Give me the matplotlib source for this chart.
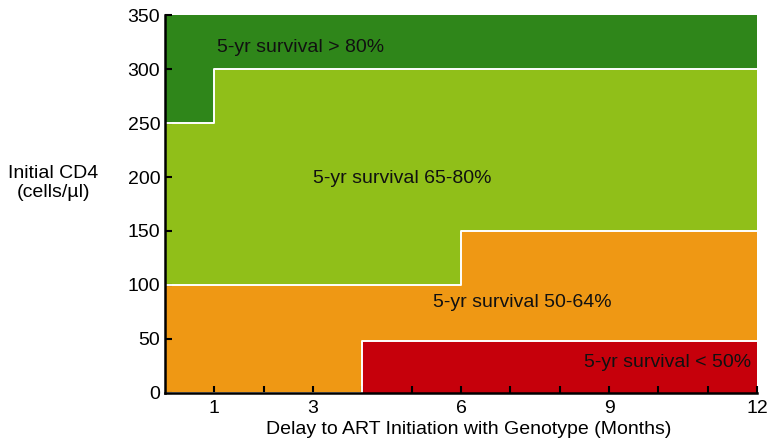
import matplotlib.pyplot as plt

plt.rcParams["font.family"] = ["Liberation Sans", "DejaVu Sans"]

# boundaries between survival zones (step functions of delay in months)
delay = [0, 1, 4, 6, 12]
dark_light = [250, 300, 300, 300, 300]   # >80% / 65-80%
light_orange = [100, 100, 100, 150, 150]  # 65-80% / 50-64%
orange_red = [0, 0, 48, 48, 48]           # 50-64% / <50%
ymax = 350

zone_colors = ["#2f861a", "#90bf19", "#ef9814", "#c6000b"]
zone_labels = ["5-yr survival > 80%", "5-yr survival 65-80%",
               "5-yr survival 50-64%", "5-yr survival < 50%"]

major_ticks = [1, 3, 6, 9, 12]
minor_ticks = [2, 4, 5, 7, 8, 10, 11]

fig = plt.figure(figsize=(7.71, 4.43), dpi=100)
ax = fig.add_axes([0.214, 0.113, 0.768, 0.853])

top = [ymax] * len(delay)
bottom = [0] * len(delay)
layers = [(dark_light, top), (light_orange, dark_light),
          (orange_red, light_orange), (bottom, orange_red)]
for (lo, hi), c in zip(layers, zone_colors):
    ax.fill_between(delay, lo, hi, step="post", color=c, linewidth=0)

for b in [dark_light, light_orange, orange_red]:
    ax.step(delay, b, where="post", color="white", lw=1.4)

# zone labels
fs = 14
ax.text(1.05, 320, zone_labels[0], fontsize=fs, va="center", color="#111111")
ax.text(3.0, 199, zone_labels[1], fontsize=fs, va="center", color="#111111")
ax.text(5.44, 84, zone_labels[2], fontsize=fs, va="center", color="#111111")
ax.text(11.87, 28, zone_labels[3], fontsize=fs, va="center", ha="right", color="#111111")

ax.set_xlim(0, 12)
ax.set_ylim(0, ymax)
ax.set_xticks(major_ticks)
ax.set_xticks(minor_ticks, minor=True)
ax.set_yticks(range(0, 351, 50))
ax.tick_params(axis="both", which="both", direction="in", length=5, width=1.5,
               labelsize=fs, color="black")
ax.tick_params(axis="x", pad=5)

for side in ["top", "right"]:
    ax.spines[side].set_visible(False)
for side in ["left", "bottom"]:
    ax.spines[side].set_linewidth(1.8)
    ax.spines[side].set_zorder(3)

fig.text(469 / 771, 1 - 429 / 443, "Delay to ART Initiation with Genotype (Months)",
         fontsize=14, ha="center", va="center")
fig.text(0.069, 0.587, "Initial CD4\n(cells/\u00b5l)", fontsize=fs, ha="center", va="center")

fig.savefig("out.png", dpi=100)
